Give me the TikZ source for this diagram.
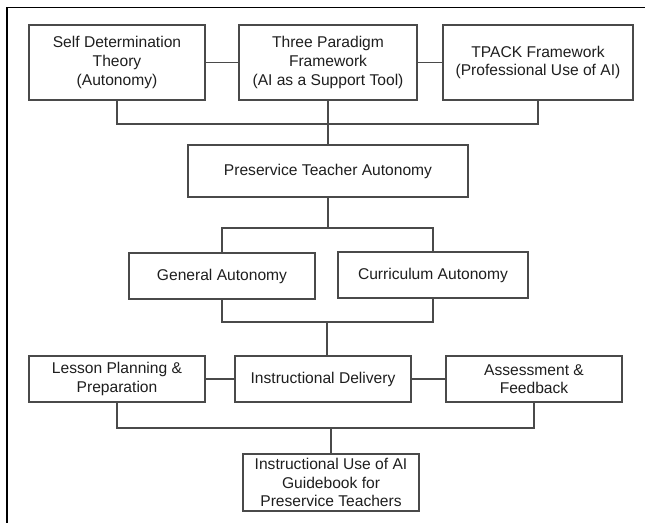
\documentclass[tikz,border=0pt]{standalone}
\usepackage{fontspec}
\setmainfont{Liberation Sans}
\definecolor{boxline}{HTML}{4A4A4A}
\definecolor{txt}{HTML}{1E1E1E}
\begin{document}
\begin{tikzpicture}[x=0.75pt,y=-0.75pt,
  box/.style={draw=boxline, line width=0.8pt, rectangle, align=center, inner sep=0pt,
    text=txt, font=\fontsize{11.7}{13.9}\selectfont},
  link/.style={draw=boxline, line width=0.8pt}]
\useasboundingbox (0,0) rectangle (645,523);
\draw[black, line width=1.1pt] (7,523) -- (7,7.5) -- (645,7.5);
% row 1
\node[box, minimum width=132pt, minimum height=56.25pt] (sdt) at (117,62.5) {Self Determination\\Theory\\(Autonomy)};
\node[box, minimum width=133.5pt, minimum height=56.25pt] (tpf) at (328,62.5) {Three Paradigm\\Framework\\(AI as a Support Tool)};
\node[box, minimum width=142.5pt, minimum height=56.25pt] (tpack) at (538,62.5) {TPACK Framework\\(Professional Use of AI)};
% row 2
\node[box, minimum width=210pt, minimum height=39pt] (pta) at (328,171) {Preservice Teacher Autonomy};
% row 3
\node[box, minimum width=139.5pt, minimum height=34.5pt] (ga) at (222,276) {General Autonomy};
\node[box, minimum width=142.5pt, minimum height=34.5pt] (ca) at (433,275) {Curriculum Autonomy};
% row 4
\node[box, minimum width=132pt, minimum height=34.5pt] (lpp) at (117,379) {Lesson Planning \&\\Preparation};
\node[box, minimum width=132pt, minimum height=34.5pt] (id) at (323,379) {Instructional Delivery};
\node[box, minimum width=132pt, minimum height=34.5pt] (af) at (534,379) {Assessment \&\\Feedback};
% row 5
\node[box, minimum width=132pt, minimum height=42.75pt] (gb) at (331,482.5) {Instructional Use of AI\\Guidebook for\\Preservice Teachers};
% junctions
\coordinate (j1) at (328,124);
\coordinate (j2) at (328,228);
\coordinate (j3) at (327,322);
\coordinate (j4) at (331,428);
% connectors
\draw[link] (sdt.east) -- (tpf.west);
\draw[link] (tpf.east) -- (tpack.west);
\draw[link] (sdt.south) |- (j1) -| (tpack.south);
\draw[link] (tpf.south) -- (pta.north);
\draw[link] (pta.south) -- (j2);
\draw[link] (ga.north) |- (j2) -| (ca.north);
\draw[link] (ga.south) |- (j3) -| (ca.south);
\draw[link] (j3) -- (j3 |- id.north);
\draw[link] (lpp.east) -- (id.west);
\draw[link] (id.east) -- (af.west);
\draw[link] (lpp.south) |- (j4) -| (af.south);
\draw[link] (j4) -- (gb.north);
\end{tikzpicture}
\end{document}
